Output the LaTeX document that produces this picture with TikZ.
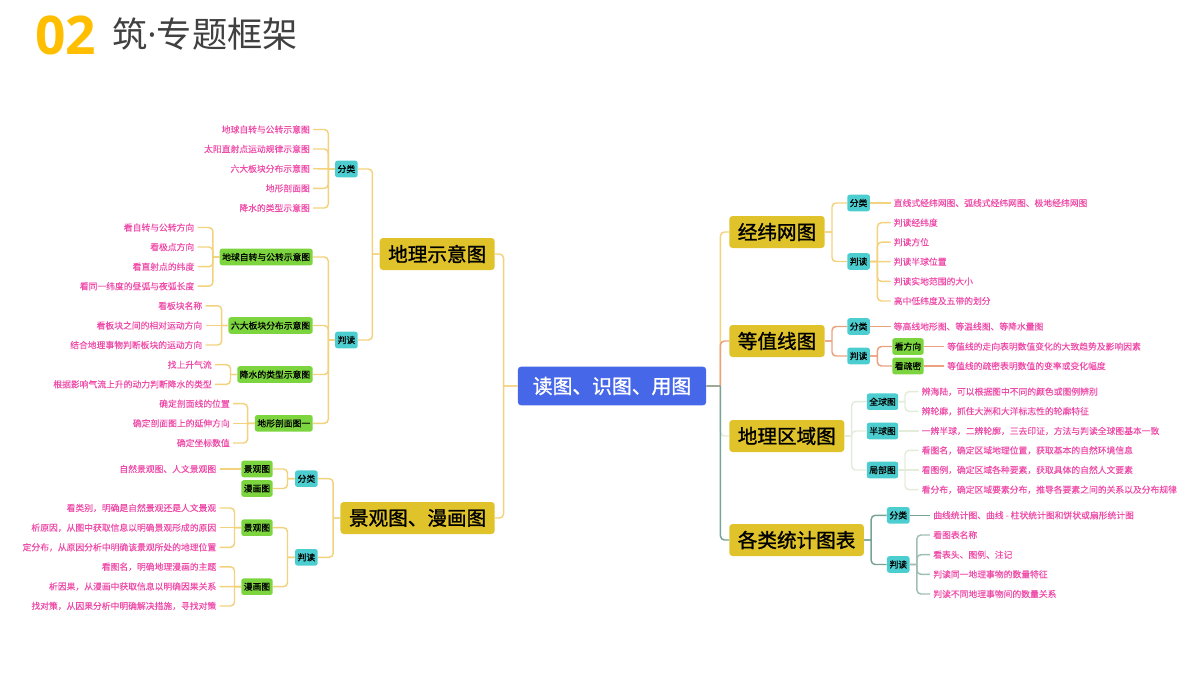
\documentclass[tikz,border=0pt]{standalone}
\usepackage{fontspec}
\usepackage{xcolor}
\newfontfamily\cjk{Noto Sans CJK SC}
\newfontfamily\cjkleaf[FakeBold=0.15]{Noto Sans CJK SC}
\newfontfamily\cjkbox[FakeBold=0.6]{Noto Sans CJK SC}
\newfontfamily\cjkmain[FakeBold=1.2]{Noto Sans CJK SC}
\newfontfamily\digitfont{Open Sans}
\definecolor{titlegold}{HTML}{FFBF00}
\definecolor{titlegray}{HTML}{404040}
\definecolor{mainblue}{HTML}{4667E8}
\definecolor{boxgold}{HTML}{E0C32B}
\definecolor{boxteal}{HTML}{4CCED0}
\definecolor{boxgreen}{HTML}{7CD53F}
\definecolor{leafpink}{HTML}{EE4BA8}
\definecolor{lineyellow}{HTML}{F3D27E}
\definecolor{lineorange}{HTML}{E9A17F}
\definecolor{linepale}{HTML}{E3ECD9}
\definecolor{linegreen}{HTML}{76A394}
\tikzset{
	centrebox/.style={rectangle, rounded corners=2.5pt, fill=mainblue, text=white, inner xsep=11.25pt, inner ysep=0pt, minimum height=29pt, font=\cjkmain\fontsize{14.85}{18}\selectfont},
	mainbox/.style={rectangle, rounded corners=2.5pt, fill=boxgold, text=black, inner xsep=6.4pt, inner ysep=0pt, minimum height=24pt, font=\cjkmain\fontsize{14.7}{18}\selectfont},
	tealbox/.style={rectangle, rounded corners=1.8pt, fill=boxteal, text=black, inner xsep=1.9pt, inner ysep=0pt, minimum height=12.4pt, font=\cjkbox\fontsize{6.6}{8}\selectfont},
	greenbox/.style={tealbox, fill=boxgreen},
	leaf/.style={inner xsep=2.25pt, inner ysep=0pt, text=leafpink, font=\cjkleaf\fontsize{6.6}{8}\selectfont},
	branch/.style={line width=1.1pt, rounded corners=3pt},
}
\begin{document}
\begin{tikzpicture}[x=0.75pt, y=-0.75pt]
	\useasboundingbox (0,0) rectangle (1200,675);
	\node[anchor=west, inner sep=0pt, text=titlegold, font=\digitfont\fontsize{40}{44}\selectfont\bfseries] (num) at (35,35) {02};
	\node[anchor=west, inner sep=0pt, text=titlegray, font=\cjk\fontsize{26.4}{30}\selectfont] (title) at (112,34) {筑{\digitfont·}专题框架};

	\node[centrebox] (main) at (612,386) {读图、识图、用图};
	\node[mainbox, anchor=east] (geo) at (495,254) {地理示意图};
	\node[mainbox, anchor=east] (view) at (495,518) {景观图、漫画图};
	\node[mainbox, anchor=west] (grid) at (729,232) {经纬网图};
	\node[mainbox, anchor=west] (iso) at (729,341) {等值线图};
	\node[mainbox, anchor=west] (region) at (729,436) {地理区域图};
	\node[mainbox, anchor=west] (stat) at (729,540) {各类统计图表};

	\node[tealbox, anchor=east] (geoA) at (358,169) {分类};
	\node[tealbox, anchor=east] (geoB) at (358,340) {判读};
	\node[leaf, anchor=east] (geoA1) at (313,129.5) {地球自转与公转示意图};
	\node[leaf, anchor=east] (geoA2) at (313,149) {太阳直射点运动规律示意图};
	\node[leaf, anchor=east] (geoA3) at (313,168.7) {六大板块分布示意图};
	\node[leaf, anchor=east] (geoA4) at (313,188.3) {地形剖面图};
	\node[leaf, anchor=east] (geoA5) at (313,208) {降水的类型示意图};
	\node[greenbox, anchor=east] (earth) at (313,257) {地球自转与公转示意图};
	\node[greenbox, anchor=east] (plate) at (313,325.5) {六大板块分布示意图};
	\node[greenbox, anchor=east] (rain) at (313,374.5) {降水的类型示意图};
	\node[greenbox, anchor=east] (cut) at (313,423.3) {地形剖面图一};
	\node[leaf, anchor=east] (earth1) at (197.5,227.5) {看自转与公转方向};
	\node[leaf, anchor=east] (earth2) at (197.5,247) {看极点方向};
	\node[leaf, anchor=east] (earth3) at (197.5,266.7) {看直射点的纬度};
	\node[leaf, anchor=east] (earth4) at (197.5,286.2) {看同一纬度的昼弧与夜弧长度};
	\node[leaf, anchor=east] (plate1) at (205.5,305.8) {看板块名称};
	\node[leaf, anchor=east] (plate2) at (205.5,325.5) {看板块之间的相对运动方向};
	\node[leaf, anchor=east] (plate3) at (205.5,345) {结合地理事物判断板块的运动方向};
	\node[leaf, anchor=east] (rain1) at (215,364.7) {找上升气流};
	\node[leaf, anchor=east] (rain2) at (215,384.3) {根据影响气流上升的动力判断降水的类型};
	\node[leaf, anchor=east] (cut1) at (233,403.7) {确定剖面线的位置};
	\node[leaf, anchor=east] (cut2) at (233,423.3) {确定剖面图上的延伸方向};
	\node[leaf, anchor=east] (cut3) at (233,443) {确定坐标数值};

	\node[tealbox, anchor=east] (viewA) at (318,478.7) {分类};
	\node[tealbox, anchor=east] (viewB) at (318,557.3) {判读};
	\node[greenbox, anchor=east] (sceneA) at (273,469) {景观图};
	\node[greenbox, anchor=east] (cartoonA) at (273,488.5) {漫画图};
	\node[greenbox, anchor=east] (sceneB) at (273,527.7) {景观图};
	\node[greenbox, anchor=east] (cartoonB) at (273,586.7) {漫画图};
	\node[leaf, anchor=east] (sceneA1) at (219.5,469) {自然景观图、人文景观图};
	\node[leaf, anchor=east] (sceneB1) at (219.5,508) {看类别，明确是自然景观还是人文景观};
	\node[leaf, anchor=east] (sceneB2) at (219.5,527.7) {析原因，从图中获取信息以明确景观形成的原因};
	\node[leaf, anchor=east] (sceneB3) at (219.5,547.3) {定分布，从原因分析中明确该景观所处的地理位置};
	\node[leaf, anchor=east] (cartoonB1) at (219.5,566.8) {看图名，明确地理漫画的主题};
	\node[leaf, anchor=east] (cartoonB2) at (219.5,586.5) {析因果，从漫画中获取信息以明确因果关系};
	\node[leaf, anchor=east] (cartoonB3) at (219.5,606) {找对策，从因果分析中明确解决措施，寻找对策};

	\node[tealbox, anchor=west] (gridA) at (847,203) {分类};
	\node[tealbox, anchor=west] (gridB) at (847,261.5) {判读};
	\node[leaf, anchor=west] (gridA1) at (890.5,203) {直线式经纬网图、弧线式经纬网图、极地经纬网图};
	\node[leaf, anchor=west] (gridB1) at (890.5,222.7) {判读经纬度};
	\node[leaf, anchor=west] (gridB2) at (890.5,242.2) {判读方位};
	\node[leaf, anchor=west] (gridB3) at (890.5,261.7) {判读半球位置};
	\node[leaf, anchor=west] (gridB4) at (890.5,281.4) {判读实地范围的大小};
	\node[leaf, anchor=west] (gridB5) at (890.5,301) {高中低纬度及五带的划分};

	\node[tealbox, anchor=west] (isoA) at (847,326.5) {分类};
	\node[tealbox, anchor=west] (isoB) at (847,356) {判读};
	\node[leaf, anchor=west] (isoA1) at (890.5,326.5) {等高线地形图、等温线图、等降水量图};
	\node[greenbox, anchor=west] (trend) at (892,346.5) {看方向};
	\node[greenbox, anchor=west] (dense) at (892,366) {看疏密};
	\node[leaf, anchor=west] (trend1) at (944,346.5) {等值线的走向表明数值变化的大致趋势及影响因素};
	\node[leaf, anchor=west] (dense1) at (944,366) {等值线的疏密表明数值的变率或变化幅度};

	\node[tealbox, anchor=west] (globe) at (866.5,401.7) {全球图};
	\node[tealbox, anchor=west] (half) at (866.5,431) {半球图};
	\node[tealbox, anchor=west] (part) at (866.5,470) {局部图};
	\node[leaf, anchor=west] (globe1) at (918.5,391.7) {辨海陆，可以根据图中不同的颜色或图例辨别};
	\node[leaf, anchor=west] (globe2) at (918.5,411.3) {辨轮廓，抓住大洲和大洋标志性的轮廓特征};
	\node[leaf, anchor=west] (half1) at (918.5,431) {一辨半球，二辨轮廓，三去印证，方法与判读全球图基本一致};
	\node[leaf, anchor=west] (part1) at (918.5,450.4) {看图名，确定区域地理位置，获取基本的自然环境信息};
	\node[leaf, anchor=west] (part2) at (918.5,470) {看图例，确定区域各种要素，获取具体的自然人文要素};
	\node[leaf, anchor=west] (part3) at (918.5,489.7) {看分布，确定区域要素分布，推导各要素之间的关系以及分布规律};

	\node[tealbox, anchor=west] (statA) at (886.7,515.3) {分类};
	\node[tealbox, anchor=west] (statB) at (886.7,564.5) {判读};
	\node[leaf, anchor=west] (statA1) at (930,515.3) {曲线统计图、曲线 - 柱状统计图和饼状或扇形统计图};
	\node[leaf, anchor=west] (statB1) at (930,535) {看图表名称};
	\node[leaf, anchor=west] (statB2) at (930,554.7) {看表头、图例、注记};
	\node[leaf, anchor=west] (statB3) at (930,574.3) {判读同一地理事物的数量特征};
	\node[leaf, anchor=west] (statB4) at (930,594) {判读不同地理事物间的数量关系};

	\draw[branch, lineyellow] (main.west) -- ++(-14,0) ++(0,0) |- (geo.east);
	\draw[branch, lineyellow] (main.west) -- ++(-14,0) ++(0,0) |- (view.east);
	\draw[branch, lineyellow] (geo.west) -- ++(-7,0) ++(0,0) |- (geoA.east);
	\draw[branch, lineyellow] (geo.west) -- ++(-7,0) ++(0,0) |- (geoB.east);
	\draw[branch, lineyellow] (geoA.west) -- ++(-6.5,0) ++(0,0) |- (geoA1.east);
	\draw[branch, lineyellow] (geoA.west) -- ++(-6.5,0) ++(0,0) |- (geoA2.east);
	\draw[branch, lineyellow] (geoA.west) -- (geoA3.east);
	\draw[branch, lineyellow] (geoA.west) -- ++(-6.5,0) ++(0,0) |- (geoA4.east);
	\draw[branch, lineyellow] (geoA.west) -- ++(-6.5,0) ++(0,0) |- (geoA5.east);
	\draw[branch, lineyellow] (geoB.west) -- ++(-6.5,0) ++(0,0) |- (earth.east);
	\draw[branch, lineyellow] (geoB.west) -- ++(-6.5,0) ++(0,0) |- (plate.east);
	\draw[branch, lineyellow] (geoB.west) -- ++(-6.5,0) ++(0,0) |- (rain.east);
	\draw[branch, lineyellow] (geoB.west) -- ++(-6.5,0) ++(0,0) |- (cut.east);
	\draw[branch, lineyellow] (earth.west) -- ++(-6.5,0) ++(0,0) |- (earth1.east);
	\draw[branch, lineyellow] (earth.west) -- ++(-6.5,0) ++(0,0) |- (earth2.east);
	\draw[branch, lineyellow] (earth.west) -- ++(-6.5,0) ++(0,0) |- (earth3.east);
	\draw[branch, lineyellow] (earth.west) -- ++(-6.5,0) ++(0,0) |- (earth4.east);
	\draw[branch, lineyellow] (plate.west) -- ++(-6.5,0) ++(0,0) |- (plate1.east);
	\draw[branch, lineyellow] (plate.west) -- (plate2.east);
	\draw[branch, lineyellow] (plate.west) -- ++(-6.5,0) ++(0,0) |- (plate3.east);
	\draw[branch, lineyellow] (rain.west) -- ++(-6.5,0) ++(0,0) |- (rain1.east);
	\draw[branch, lineyellow] (rain.west) -- ++(-6.5,0) ++(0,0) |- (rain2.east);
	\draw[branch, lineyellow] (cut.west) -- ++(-7,0) ++(0,0) |- (cut1.east);
	\draw[branch, lineyellow] (cut.west) -- (cut2.east);
	\draw[branch, lineyellow] (cut.west) -- ++(-7,0) ++(0,0) |- (cut3.east);

	\draw[branch, lineyellow] (view.west) -- ++(-7,0) ++(0,0) |- (viewA.east);
	\draw[branch, lineyellow] (view.west) -- ++(-7,0) ++(0,0) |- (viewB.east);
	\draw[branch, lineyellow] (viewA.west) -- ++(-7.3,0) ++(0,0) |- (sceneA.east);
	\draw[branch, lineyellow] (viewA.west) -- ++(-7.3,0) ++(0,0) |- (cartoonA.east);
	\draw[branch, lineyellow] (viewB.west) -- ++(-7.3,0) ++(0,0) |- (sceneB.east);
	\draw[branch, lineyellow] (viewB.west) -- ++(-7.3,0) ++(0,0) |- (cartoonB.east);
	\draw[branch, lineyellow] (sceneA.west) -- (sceneA1.east);
	\draw[branch, lineyellow] (sceneB.west) -- ++(-6.5,0) ++(0,0) |- (sceneB1.east);
	\draw[branch, lineyellow] (sceneB.west) -- (sceneB2.east);
	\draw[branch, lineyellow] (sceneB.west) -- ++(-6.5,0) ++(0,0) |- (sceneB3.east);
	\draw[branch, lineyellow] (cartoonB.west) -- ++(-6.5,0) ++(0,0) |- (cartoonB1.east);
	\draw[branch, lineyellow] (cartoonB.west) -- (cartoonB2.east);
	\draw[branch, lineyellow] (cartoonB.west) -- ++(-6.5,0) ++(0,0) |- (cartoonB3.east);

	\draw[branch, lineyellow] (main.east) -- ++(14,0) ++(0,0) |- (grid.west);
	\draw[branch, lineyellow] (grid.east) -- ++(7,0) ++(0,0) |- (gridA.west);
	\draw[branch, lineyellow] (grid.east) -- ++(7,0) ++(0,0) |- (gridB.west);
	\draw[branch, lineyellow] (gridA.east) -- (gridA1.west);
	\draw[branch, lineyellow] (gridB.east) -- ++(7.2,0) ++(0,0) |- (gridB1.west);
	\draw[branch, lineyellow] (gridB.east) -- ++(7.2,0) ++(0,0) |- (gridB2.west);
	\draw[branch, lineyellow] (gridB.east) -- (gridB3.west);
	\draw[branch, lineyellow] (gridB.east) -- ++(7.2,0) ++(0,0) |- (gridB4.west);
	\draw[branch, lineyellow] (gridB.east) -- ++(7.2,0) ++(0,0) |- (gridB5.west);

	\draw[branch, linepale] (main.east) -- ++(14,0) ++(0,0) |- (region.west);
	\draw[branch, linepale] (region.east) -- ++(7,0) ++(0,0) |- (globe.west);
	\draw[branch, linepale] (region.east) -- ++(7,0) ++(0,0) |- (half.west);
	\draw[branch, linepale] (region.east) -- ++(7,0) ++(0,0) |- (part.west);
	\draw[branch, linepale] (globe.east) -- ++(6.5,0) ++(0,0) |- (globe1.west);
	\draw[branch, linepale] (globe.east) -- ++(6.5,0) ++(0,0) |- (globe2.west);
	\draw[branch, linepale] (half.east) -- (half1.west);
	\draw[branch, linepale] (part.east) -- ++(6.5,0) ++(0,0) |- (part1.west);
	\draw[branch, linepale] (part.east) -- (part2.west);
	\draw[branch, linepale] (part.east) -- ++(6.5,0) ++(0,0) |- (part3.west);

	\draw[branch, lineorange] (main.east) -- ++(14,0) ++(0,0) |- (iso.west);
	\draw[branch, lineorange] (iso.east) -- ++(7,0) ++(0,0) |- (isoA.west);
	\draw[branch, lineorange] (iso.east) -- ++(7,0) ++(0,0) |- (isoB.west);
	\draw[branch, lineorange] (isoA.east) -- (isoA1.west);
	\draw[branch, lineorange] (isoB.east) -- ++(7.2,0) ++(0,0) |- (trend.west);
	\draw[branch, lineorange] (isoB.east) -- ++(7.2,0) ++(0,0) |- (dense.west);
	\draw[branch, lineorange] (trend.east) -- (trend1.west);
	\draw[branch, lineorange] (dense.east) -- (dense1.west);

	\draw[branch, linegreen] (main.east) -- ++(14,0) ++(0,0) |- (stat.west);
	\draw[branch, linegreen] (stat.east) -- ++(7,0) ++(0,0) |- (statA.west);
	\draw[branch, linegreen] (stat.east) -- ++(7,0) ++(0,0) |- (statB.west);
	\draw[branch, linegreen] (statA.east) -- (statA1.west);
	\draw[branch, linegreen!70] (statB.east) -- ++(7,0) ++(0,0) |- (statB1.west);
	\draw[branch, linegreen!70] (statB.east) -- ++(7,0) ++(0,0) |- (statB2.west);
	\draw[branch, linegreen!70] (statB.east) -- ++(7,0) ++(0,0) |- (statB3.west);
	\draw[branch, linegreen!70] (statB.east) -- ++(7,0) ++(0,0) |- (statB4.west);
\end{tikzpicture}
\end{document}
